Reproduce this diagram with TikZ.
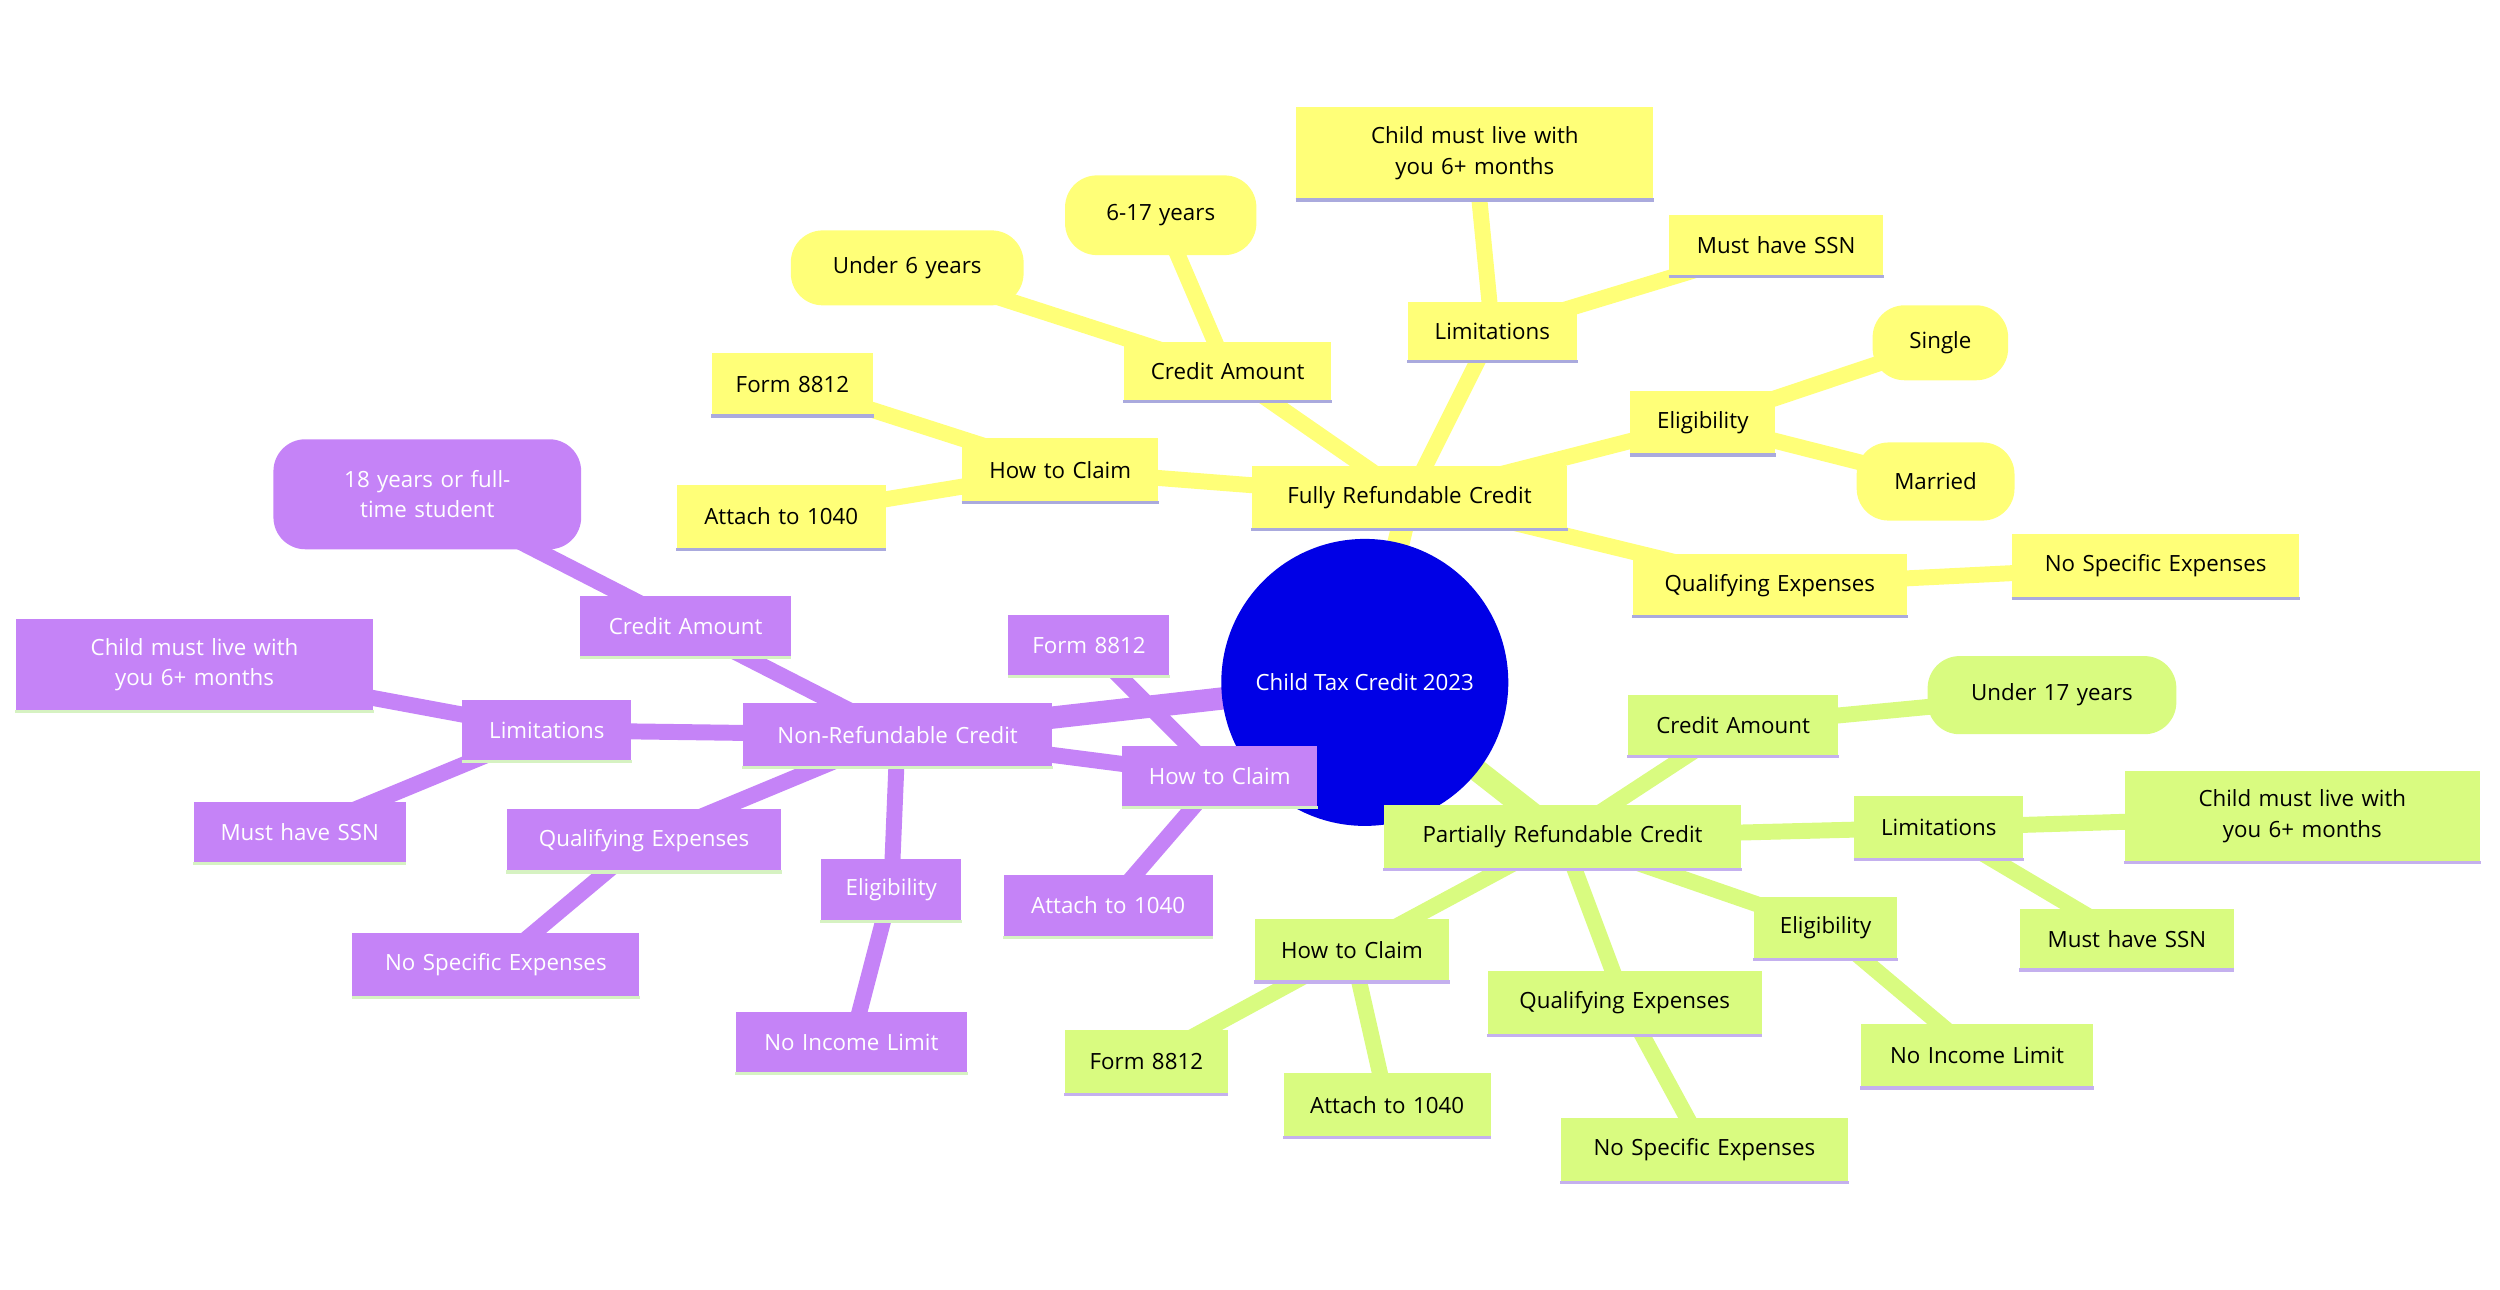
\documentclass[tikz,border=0pt]{standalone}
\usepackage{fontspec}
\setmainfont{Open Sans}
\usetikzlibrary{backgrounds}
\definecolor{yf}{HTML}{FFFF78}
\definecolor{yl}{HTML}{AAAADD}
\definecolor{gf}{HTML}{D9FB80}
\definecolor{gl}{HTML}{C4B0EE}
\definecolor{pf}{HTML}{C583F7}
\definecolor{pl}{HTML}{D6F2C2}
\definecolor{rootc}{HTML}{0000E6}
\tikzset{
 base/.style={inner sep=1pt,align=center,font=\fontsize{7}{9.5}\selectfont},
 Y/.style={base,fill=yf,text=black},
 G/.style={base,fill=gf,text=black},
 P/.style={base,fill=pf,text=white},
 Yr/.style={Y,rounded corners=10pt},
 Gr/.style={G,rounded corners=10pt},
 Pr/.style={P,rounded corners=10pt},
 Ye/.style={draw=yf,line width=5pt},
 Ge/.style={draw=gf,line width=5pt},
 Pe/.style={draw=pf,line width=5pt},
 Yb/.style={draw=yl,line width=1pt},
 Gb/.style={draw=gl,line width=1pt},
 Pb/.style={draw=pl,line width=1pt},
}
% name, cx, cy, w, h, style, text
\newcommand\bx[7]{\node[#6,minimum width=#4*0.5pt,minimum height=#5*0.5pt,text width=#4*0.5pt-6pt] (#1) at (#2,#3) {#7};}
\newcommand\bxl[8]{\bx{#1}{#2}{#3}{#4}{#5}{#6}{#8}\draw[#7] (#1.south west)--(#1.south east);}
\begin{document}
\begin{tikzpicture}[x=0.5pt,y=-0.5pt]
\useasboundingbox (0,0) rectangle (1568,809);
\node[circle,fill=rootc,text=white,minimum size=90pt,inner sep=0pt,font=\fontsize{7}{9.5}\selectfont] (root) at (856,428) {Child Tax Credit 2023};
% yellow
\bxl{yF}{884}{312}{198}{39}{Y}{Yb}{Fully Refundable Credit}
\bxl{yCA}{770}{233}{130}{37}{Y}{Yb}{Credit Amount}
\bx{yU6}{569}{168}{146}{47}{Yr}{Under 6 years}
\bx{y617}{728}{135}{120}{50}{Yr}{6-17 years}
\bxl{yL}{936}{208}{106}{37}{Y}{Yb}{Limitations}
\bxl{yLC}{925}{96}{224}{58}{Y}{Yb}{Child must live with you 6+ months}
\bxl{yLS}{1114}{154}{134}{38}{Y}{Yb}{Must have SSN}
\bxl{yE}{1068}{265}{91}{40}{Y}{Yb}{Eligibility}
\bx{yES}{1217}{215}{85}{47}{Yr}{Single}
\bx{yEM}{1214}{302}{99}{49}{Yr}{Married}
\bxl{yQ}{1110}{367}{172}{39}{Y}{Yb}{Qualifying Expenses}
\bxl{yQN}{1352}{355}{180}{40}{Y}{Yb}{No Specific Expenses}
\bxl{yH}{665}{295}{123}{40}{Y}{Yb}{How to Claim}
\bxl{yHF}{497}{241}{101}{39}{Y}{Yb}{Form 8812}
\bxl{yHA}{490}{324}{131}{40}{Y}{Yb}{Attach to 1040}
% green
\bxl{gP}{980}{525}{224}{40}{G}{Gb}{Partially Refundable Credit}
\bxl{gCA}{1087}{455}{132}{38}{G}{Gb}{Credit Amount}
\bx{gU}{1287}{436}{156}{49}{Gr}{Under 17 years}
\bxl{gL}{1216}{519}{106}{39}{G}{Gb}{Limitations}
\bxl{gLC}{1444}{512}{223}{57}{G}{Gb}{Child must live with you 6+ months}
\bxl{gLS}{1334}{589}{134}{38}{G}{Gb}{Must have SSN}
\bxl{gE}{1145}{582}{90}{39}{G}{Gb}{Eligibility}
\bxl{gEN}{1240}{662}{146}{40}{G}{Gb}{No Income Limit}
\bxl{gQ}{1019}{629}{172}{40}{G}{Gb}{Qualifying Expenses}
\bxl{gQN}{1069}{721}{180}{40}{G}{Gb}{No Specific Expenses}
\bxl{gH}{848}{596}{122}{39}{G}{Gb}{How to Claim}
\bxl{gHF}{719}{666}{102}{40}{G}{Gb}{Form 8812}
\bxl{gHA}{870}{693}{130}{40}{G}{Gb}{Attach to 1040}
% purple
\bxl{pN}{563}{461}{194}{40}{P}{Pb}{Non-Refundable Credit}
\bxl{pCA}{430}{393}{132}{38}{P}{Pb}{Credit Amount}
\bx{pC18}{268}{310}{193}{69}{Pr}{18 years or full-time student}
\bxl{pL}{343}{458}{106}{38}{P}{Pb}{Limitations}
\bxl{pLC}{122}{417}{224}{58}{P}{Pb}{Child must live with you 6+ months}
\bxl{pLS}{188}{522}{133}{38}{P}{Pb}{Must have SSN}
\bxl{pQ}{404}{527}{172}{39}{P}{Pb}{Qualifying Expenses}
\bxl{pQN}{311}{605}{180}{40}{P}{Pb}{No Specific Expenses}
\bxl{pE}{559}{558}{88}{39}{P}{Pb}{Eligibility}
\bxl{pEN}{534}{654}{145}{38}{P}{Pb}{No Income Limit}
\bxl{pH}{765}{487}{122}{38}{P}{Pb}{How to Claim}
\bxl{pHF}{683}{405}{101}{38}{P}{Pb}{Form 8812}
\bxl{pHA}{695}{568}{131}{39}{P}{Pb}{Attach to 1040}
\begin{scope}[on background layer]
\draw[Ye,line width=7pt] (root.center)--(yF.center);
\foreach \a/\b in {yF/yCA,yCA/yU6,yCA/y617,yF/yL,yL/yLC,yL/yLS,yF/yE,yE/yES,yE/yEM,yF/yQ,yQ/yQN,yF/yH,yH/yHF,yH/yHA}
  \draw[Ye] (\a.center)--(\b.center);
\draw[Ge,line width=7pt] (root.center)--(gP.center);
\foreach \a/\b in {gP/gCA,gCA/gU,gP/gL,gL/gLC,gL/gLS,gP/gE,gE/gEN,gP/gQ,gQ/gQN,gP/gH,gH/gHF,gH/gHA}
  \draw[Ge] (\a.center)--(\b.center);
\draw[Pe,line width=7pt] (root.center)--(pN.center);
\foreach \a/\b in {pN/pCA,pCA/pC18,pN/pL,pL/pLC,pL/pLS,pN/pQ,pQ/pQN,pN/pE,pE/pEN,pN/pH,pH/pHF,pH/pHA}
  \draw[Pe] (\a.center)--(\b.center);
\end{scope}
\end{tikzpicture}
\end{document}
